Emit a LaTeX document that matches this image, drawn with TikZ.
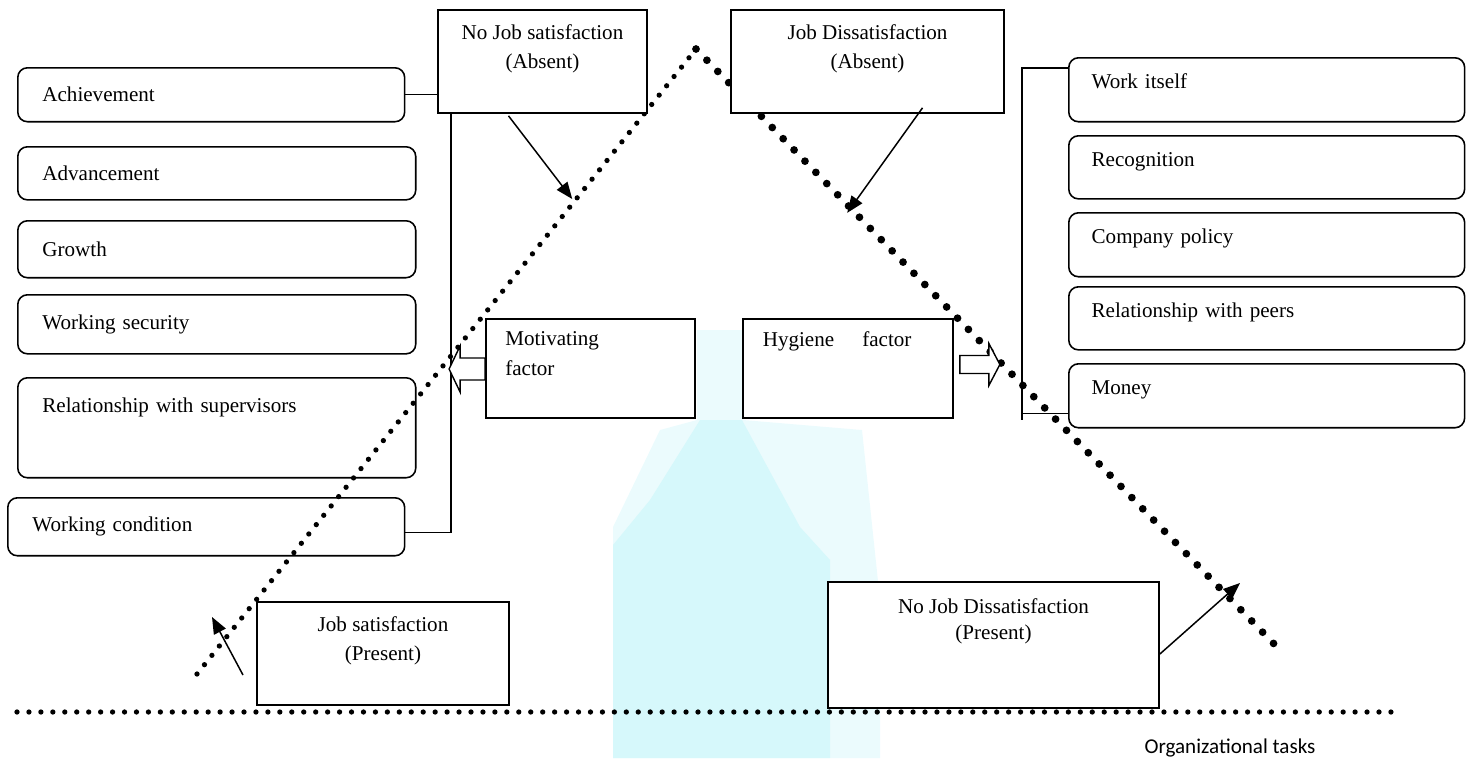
\documentclass[tikz,border=0pt]{standalone}
\usepackage{fontspec}
\setmainfont{Liberation Serif}
\newfontfamily\calibri{Carlito}
\usetikzlibrary{arrows.meta, positioning, calc}
\definecolor{blobcyan}{RGB}{204,246,250}

\begin{document}
\begin{tikzpicture}[
  x=0.02cm, y=-0.02cm,
  factor/.style={rectangle, rounded corners=5.5pt, draw=black, line width=0.9pt, fill=white, anchor=north west, align=left, font=\fontsize{12}{14}\selectfont, inner xsep=14pt},
  hfactor/.style={factor, inner xsep=13pt, text width=199.3pt, minimum width=225.3pt, text height=8.5pt, text depth=9.5pt},
  state/.style={rectangle, draw=black, line width=1pt, fill=white, align=center, font=\fontsize{12}{17}\selectfont},
  kind/.style={rectangle, draw=black, line width=1pt, fill=white, align=left, font=\fontsize{12}{17}\selectfont, inner xsep=11pt, minimum width=119pt, minimum height=56.3pt, text width=97pt},
  pointer/.style={-{Triangle[length=9.5pt,width=7.5pt]}, line width=0.85pt},
  hollow/.style={draw=black, line width=0.8pt, fill=white},
  smalldots/.style={line width=3pt, line cap=round, dash pattern=on 0pt off 6.8pt},
  bigdots/.style={line width=4.4pt, line cap=round, dash pattern=on 0pt off 8.9pt}
]
  \useasboundingbox (0,0) rectangle (1470,758);

  \fill[blobcyan!40] (697,330) -- (743,330) -- (743,420) -- (862,430) -- (880,600) -- (880,758) -- (613,758) -- (613,527) -- (660,430) -- (697,420) -- cycle;
  \fill[blobcyan!80] (700,420) -- (742,420) -- (800,527) -- (830,560) -- (830,758) -- (613,758) -- (613,545) -- (650,500) -- cycle;

  \node[factor, text width=192.2pt, minimum width=220.2pt, minimum height=30.7pt] (ach) at (17,67) {Achievement};
  \node[factor, text width=198.5pt, minimum width=226.5pt, minimum height=30.2pt] (adv) at (17,146) {Advancement};
  \node[factor, text width=198.5pt, minimum width=226.5pt, minimum height=32.4pt] (gro) at (17,220) {Growth};
  \node[factor, text width=198.5pt, minimum width=226.5pt, minimum height=33.6pt] (sec) at (17,294) {Working security};
  \node[factor, text width=198.5pt, minimum width=226.5pt, minimum height=56.9pt, text height=8.5pt, text depth=25.5pt] (sup) at (17,377) {Relationship with supervisors};
  \node[factor, text width=197.9pt, minimum width=225.9pt, minimum height=33pt] (con) at (7,497) {Working condition};

  \node[hfactor, minimum height=36.4pt] (wrk) at (1068,57) {Work itself};
  \node[hfactor, minimum height=35.9pt] (rec) at (1068,135) {Recognition};
  \node[hfactor, minimum height=36.4pt] (pol) at (1068,212) {Company policy};
  \node[hfactor, minimum height=35.9pt] (pee) at (1068,286) {Relationship with peers};
  \node[hfactor, minimum height=36.4pt] (mon) at (1068,363) {Money};

  \coordinate (pk) at (696,49);
  \coordinate (ls) at (197,674);
  \coordinate (re) at (1277,647);
  \draw[smalldots] (ls) -- (pk);
  \draw[bigdots] (pk) -- (re);
  \draw[smalldots] (17,712) coordinate (bl) -- (1400,712) coordinate (br);

  \node[state, minimum width=118.9pt, minimum height=58.6pt] (nsat) at (542.5,61.5) {No Job satisfaction\\(Absent)\\\phantom{X}};
  \node[state, minimum width=155.4pt, minimum height=58.6pt] (dsat) at (867.5,61.5) {Job Dissatisfaction\\(Absent)\\\phantom{X}};
  \node[state, minimum width=143.4pt, minimum height=58.6pt] (jsat) at (383,653.5) {Job satisfaction\\(Present)\\\phantom{X}};
  \node[state, minimum width=188.4pt, minimum height=71.7pt, font=\fontsize{12}{14.8}\selectfont] (ndsat) at (993.5,645) {No Job Dissatisfaction\\(Present)\\\phantom{X}\\\phantom{X}};

  \node[kind] (mot) at (590.5,368.5) {Motivating\\factor\\\phantom{X}};
  \node[kind, minimum width=119.5pt] (hyg) at (848,368.5) {Hygiene\hspace{16pt}factor\\\phantom{X}\\\phantom{X}};

  \node[font=\calibri\fontsize{12}{14}\selectfont] (task) at (1230,748) {Organizational tasks};

  \draw[line width=0.8pt] (ach.east) -- (ach.east -| nsat.west);
  \draw[line width=0.8pt] ($(nsat.south west)+(14,0)$) |- ($(con.east)+(0,6)$);
  \draw[line width=0.8pt] ($(wrk.north west)+(0,11)$) -- ++(-46,0) -- ++(0,352);
  \draw[line width=0.8pt] ($(mon.south west)+(0,-15)$) -- ++(-46,0);

  \draw[hollow] ($(mot.west)+(0,-10.5)$) -- ++(-25,0) -- ++(0,-12) -- ++(-11,23) -- ++(11,23) -- ++(0,-12) -- ++(25,0) -- cycle;
  \draw[hollow] ($(hyg.east)+(6,-13)$) -- ++(29,0) -- ++(0,-12) -- ++(11,21) -- ++(-11,21) -- ++(0,-12) -- ++(-29,0) -- cycle;

  \coordinate (a1) at ($(ls)!0.76!(pk)+(-4,0)$);
  \coordinate (a2) at ($(pk)!0.274!(re)+(-8,0)$);
  \coordinate (a3s) at (243,675);
  \coordinate (a3) at (212,617);
  \coordinate (a4) at (1240,583);
  \draw[pointer] ($(nsat.south)+(-34,2)$) -- (a1);
  \draw[pointer] ($(dsat.south)+(55,-6)$) -- (a2);
  \draw[pointer] (a3s) -- (a3);
  \draw[pointer] ($(ndsat.east)+(0,9)$) -- (a4);
\end{tikzpicture}
\end{document}
